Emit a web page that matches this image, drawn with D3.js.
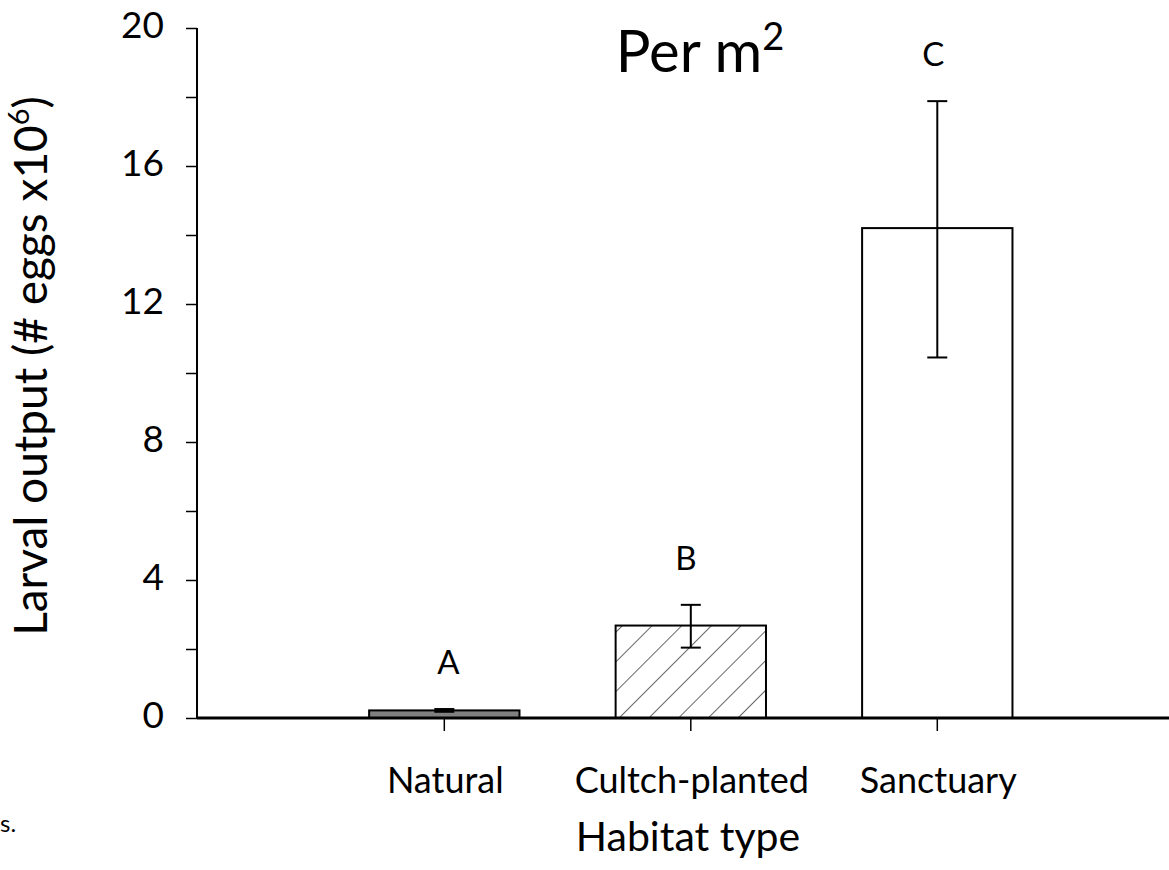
<!DOCTYPE html>
<html><head><meta charset="utf-8">
<script src="https://cdn.jsdelivr.net/npm/d3@7"></script>
<style>body{margin:0;background:#fff;} text{font-family:Lato,"Open Sans",sans-serif;fill:#000;}</style>
</head><body>
<svg id="c" width="1169" height="870"></svg>
<script>
const categories = ["Natural", "Cultch-planted", "Sanctuary"];
const means = [0.22, 2.68, 14.2];
const errLow = [0.18, 2.04, 10.45];
const errHigh = [0.26, 3.28, 17.88];
const letters = ["A", "B", "C"];
const yTicks = [0, 4, 8, 12, 16, 20];
const yMinorTicks = [0, 2, 4, 6, 8, 10, 12, 14, 16, 18, 20];

const svg = d3.select("#c");
const x0 = 197, x1 = 1169, yTop = 28, yBot = 718;
const y = d3.scaleLinear().domain([0, 20]).range([yBot, yTop]);
const x = d3.scaleBand().domain(categories).range([273, 1108.6]).paddingInner(0.39).paddingOuter(0.39);

// hatch pattern
const defs = svg.append("defs");
const pat = defs.append("pattern").attr("id","hatch").attr("patternUnits","userSpaceOnUse")
  .attr("width",21).attr("height",21).attr("patternTransform","rotate(45)");
pat.append("rect").attr("width",21).attr("height",21).attr("fill","#fff");
pat.append("line").attr("x1",0).attr("y1",0).attr("x2",0).attr("y2",21).attr("stroke","#222").attr("stroke-width",1.4);

const fills = ["#808080", "url(#hatch)", "#fff"];

// bars
svg.selectAll("rect.bar").data(categories).enter().append("rect").attr("class","bar")
  .attr("x", d => x(d)).attr("width", x.bandwidth())
  .attr("y", (d,i) => y(means[i])).attr("height", (d,i) => y(0) - y(means[i]))
  .attr("fill", (d,i) => fills[i]).attr("stroke","#000").attr("stroke-width",2);

// error bars
const g = svg.append("g").attr("stroke","#000").attr("stroke-width",2);
const letterShift = [4, -5, -4];
categories.forEach((c,i) => {
  const cx = x(c) + x.bandwidth()/2;
  g.append("line").attr("x1",cx).attr("x2",cx).attr("y1",y(errLow[i])).attr("y2",y(errHigh[i]));
  [errLow[i], errHigh[i]].forEach(v => g.append("line").attr("x1",cx-10).attr("x2",cx+10).attr("y1",y(v)).attr("y2",y(v)));
  svg.append("text").attr("x",cx + letterShift[i]).attr("y",y(errHigh[i]) - 35).attr("text-anchor","middle")
    .attr("font-size",33).text(letters[i]);
});

// y axis
const yAxis = d3.axisLeft(y).tickValues(yMinorTicks).tickSize(11).tickFormat("");
const ya = svg.append("g").attr("transform",`translate(${x0},0)`).call(yAxis);
ya.select(".domain").attr("stroke","#000").attr("stroke-width",2).attr("d",`M0,${yTop}V${yBot}`);
ya.selectAll(".tick line").attr("stroke","#000").attr("stroke-width",1.5);
svg.selectAll("text.ytl").data(yTicks).enter().append("text").attr("class","ytl")
  .attr("x",164).attr("y",d=>y(d)+10).attr("text-anchor","end").attr("font-size",37).text(d=>d);

// x axis
const xAxis = d3.axisBottom(x).tickSize(13).tickFormat("");
const xa = svg.append("g").attr("transform",`translate(0,${yBot})`).call(xAxis);
xa.select(".domain").attr("d",`M${x0},0H${x1}`).attr("stroke","#000").attr("stroke-width",3);
xa.selectAll(".tick line").attr("stroke","#000").attr("stroke-width",1.5);
svg.selectAll("text.xtl").data(categories).enter().append("text").attr("class","xtl")
  .attr("x", d => x(d) + x.bandwidth()/2 + 1).attr("y",793).attr("text-anchor","middle").attr("font-size",36).text(d=>d);

// titles
svg.append("text").attr("x",688).attr("y",851).attr("text-anchor","middle").attr("font-size",41).text("Habitat type");
const yl = svg.append("text").attr("transform","translate(47,366) rotate(-90)").attr("text-anchor","middle").attr("font-size",46);
yl.append("tspan").text("Larval output (# eggs x10");
yl.append("tspan").attr("font-size",29).attr("dy",-18).text("6");
yl.append("tspan").attr("dy",18).text(")");

const t = svg.append("text").attr("x",700).attr("y",72).attr("text-anchor","middle").attr("font-size",58);
t.append("tspan").text("Per m");
t.append("tspan").attr("font-size",38).attr("dy",-22).text("2");

svg.append("text").attr("x",0).attr("y",832).attr("font-size",24).text("s.");
</script>
</body></html>
